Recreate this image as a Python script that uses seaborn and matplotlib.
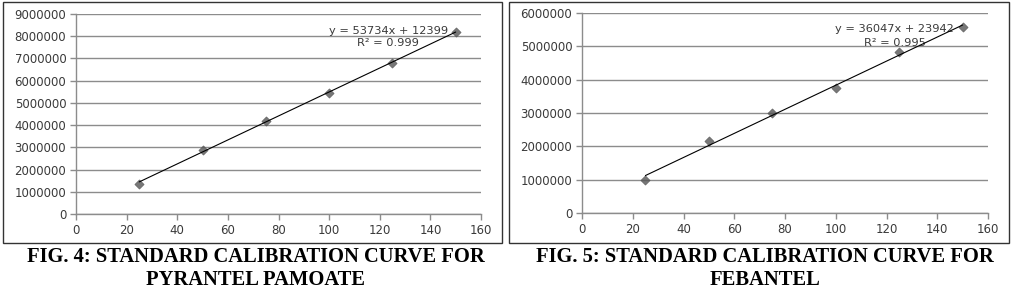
import matplotlib
matplotlib.use("Agg")
import matplotlib.pyplot as plt
import seaborn as sns
import numpy as np
import pandas as pd
from matplotlib.ticker import StrMethodFormatter
from matplotlib.patches import Rectangle

sns.set_style("white")
plt.rcParams['font.family'] = ['DejaVu Sans']

# Data
conc = [25, 50, 75, 100, 125, 150]
pyrantel_area = [1350000, 2900000, 4200000, 5450000, 6800000, 8200000]
febantel_area = [1000000, 2150000, 3000000, 3750000, 4820000, 5570000]
x_ticks = [0, 20, 40, 60, 80, 100, 120, 140, 160]
y_ticks_left = [0, 1000000, 2000000, 3000000, 4000000, 5000000, 6000000, 7000000, 8000000, 9000000]
y_ticks_right = [0, 1000000, 2000000, 3000000, 4000000, 5000000, 6000000]
eq_left = ["y = 53734x + 12399", "R² = 0.999"]
eq_right = ["y = 36047x + 23942", "R² = 0.995"]
captions = [["FIG. 4: STANDARD CALIBRATION CURVE FOR", "PYRANTEL PAMOATE"],
            ["FIG. 5: STANDARD CALIBRATION CURVE FOR", "FEBANTEL"]]

W, H = 1018, 298
fig = plt.figure(figsize=(W / 100, H / 100), dpi=100)

def px_axes(x0, y0, x1, y1):
    return fig.add_axes([x0 / W, 1 - y1 / H, (x1 - x0) / W, (y1 - y0) / H])

# panel borders
for (x0, y0, x1, y1) in [(3, 2, 502, 243), (509, 2, 1009, 243)]:
    fig.patches.append(Rectangle((x0 / W, 1 - y1 / H), (x1 - x0) / W, (y1 - y0) / H,
                                 transform=fig.transFigure, fill=False,
                                 edgecolor="#333333", linewidth=1.0))

axL = px_axes(76, 14, 481, 214)
axR = px_axes(582, 13, 988, 213)

grid_c = "#8c8c8c"
text_c = "#3a3a3a"

def style(ax, yvals, yticks, ymax, eq, eqy):
    df = pd.DataFrame({"x": conc, "y": yvals})
    sns.regplot(data=df, x="x", y="y", ax=ax, ci=None, marker="D",
                scatter_kws=dict(s=22, color="#555555", edgecolor="#555555", linewidths=0.5, zorder=3),
                line_kws=dict(color="black", linewidth=0.8, zorder=4))
    ax.set_xlim(0, 160)
    ax.set_ylim(0, ymax)
    ax.set_xticks(x_ticks)
    ax.set_yticks(yticks)
    ax.yaxis.set_major_formatter(StrMethodFormatter("{x:.0f}"))
    ax.set_xlabel("")
    ax.set_ylabel("")
    for s in ["top", "right"]:
        ax.spines[s].set_visible(False)
    for s in ["left", "bottom"]:
        ax.spines[s].set_color(grid_c)
        ax.spines[s].set_linewidth(1.0)
    ax.grid(axis="y", color=grid_c, linewidth=1.0)
    ax.grid(axis="x", visible=False)
    ax.set_axisbelow(True)
    ax.tick_params(axis="both", direction="out", length=4, width=1.0, color=grid_c,
                   labelsize=8.5, labelcolor=text_c, pad=3, left=True, bottom=True)
    ax.text(123.3, eqy[0], eq[0], ha="center", va="center", fontsize=8.2, color=text_c)
    ax.text(123.3, eqy[1], eq[1], ha="center", va="center", fontsize=8.2, color=text_c)

style(axL, pyrantel_area, y_ticks_left, 9000000, eq_left, (8250000, 7700000))
style(axR, febantel_area, y_ticks_right, 6000000, eq_right, (5520000, 5100000))

for cx, cap in zip([256, 765], captions):
    fig.text(cx / W, 1 - 257 / H, cap[0], ha="center", va="center",
             fontsize=14.8, fontweight="bold", family="Liberation Serif", color="black")
    fig.text(cx / W, 1 - 280 / H, cap[1], ha="center", va="center",
             fontsize=14.8, fontweight="bold", family="Liberation Serif", color="black")

fig.savefig("out.png", dpi=100, facecolor="white")
